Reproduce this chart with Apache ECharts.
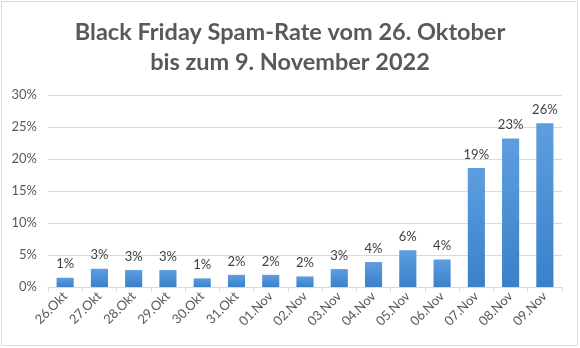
<!DOCTYPE html>
<html><head><meta charset="utf-8">
<script src="https://cdn.jsdelivr.net/npm/echarts@6/dist/echarts.min.js"></script>
<style>html,body{margin:0;padding:0;background:#fff}#c{width:580px;height:348px}</style>
</head><body><div id="c"></div>
<script>
const categories = ['26.Okt','27.Okt','28.Okt','29.Okt','30.Okt','31.Okt','01.Nov','02.Nov','03.Nov','04.Nov','05.Nov','06.Nov','07.Nov','08.Nov','09.Nov'];
const spamRate = [1.45, 2.85, 2.65, 2.65, 1.35, 1.9, 1.9, 1.65, 2.8, 3.9, 5.75, 4.3, 18.6, 23.2, 25.6];
const yTicks = [0, 5, 10, 15, 20, 25, 30];
const titleText = 'Black Friday Spam-Rate vom 26. Oktober\nbis zum 9. November 2022';

const chart = echarts.init(document.getElementById('c'), null, {renderer: 'canvas'});
chart.setOption({
  animation: false,
  backgroundColor: '#fff',
  textStyle: {fontFamily: 'Lato'},
  title: {
    text: titleText, left: 'center', top: 12,
    textStyle: {fontFamily: 'Lato', fontWeight: 'bold', fontSize: 23.5, color: '#595959', lineHeight: 30}
  },
  graphic: [{type: 'rect', shape: {x: 1.5, y: 1.5, width: 576, height: 344}, style: {fill: 'none', stroke: '#d9d9d9', lineWidth: 1}, silent: true}],
  grid: {left: 48, right: 18, top: 95, bottom: 61},
  xAxis: {
    type: 'category', data: categories,
    axisLine: {lineStyle: {color: '#d9d9d9'}},
    axisTick: {show: true, alignWithLabel: false, length: 5, lineStyle: {color: '#d9d9d9'}},
    axisLabel: {rotate: 45, fontSize: 13, color: '#595959', margin: 7, interval: 0}
  },
  yAxis: {
    type: 'value', min: yTicks[0], max: yTicks[yTicks.length - 1], interval: 5,
    axisLine: {show: false}, axisTick: {show: false},
    splitLine: {lineStyle: {color: '#d9d9d9'}},
    axisLabel: {fontSize: 13, color: '#595959', margin: 11, formatter: v => v + '%'}
  },
  series: [{
    type: 'bar', data: spamRate, barWidth: '50%',
    itemStyle: {
      color: new echarts.graphic.LinearGradient(0, 0, 0, 1, [
        {offset: 0, color: '#5e9ee0'}, {offset: 1, color: '#3981c8'}
      ])
    },
    label: {show: true, position: 'top', distance: 7, fontSize: 13, color: '#404040',
      formatter: p => Math.round(p.value) + '%'}
  }]
});
</script></body></html>
